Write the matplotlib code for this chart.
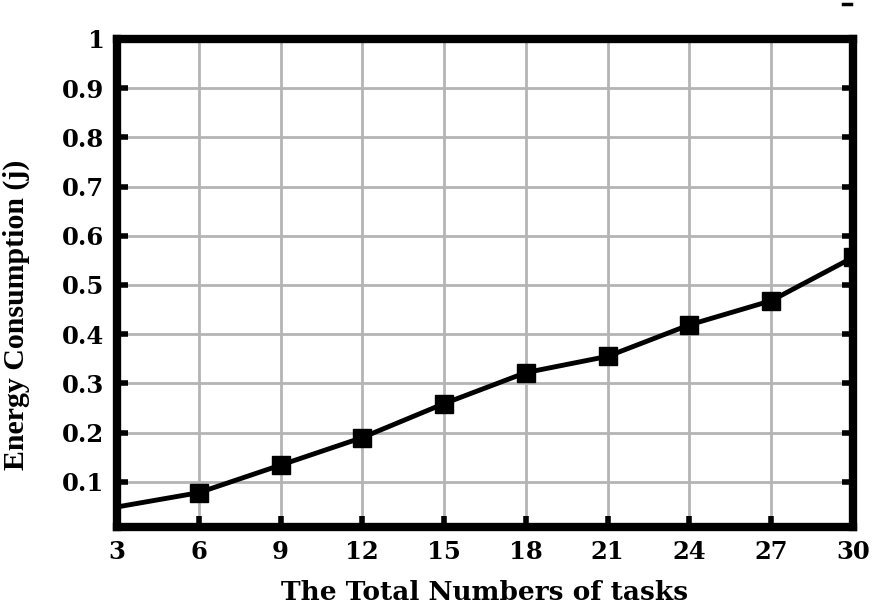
import matplotlib
matplotlib.use("Agg")
import matplotlib.pyplot as plt

tasks = [3, 6, 9, 12, 15, 18, 21, 24, 27, 30]
energy = [0.049, 0.078, 0.134, 0.19, 0.259, 0.322, 0.355, 0.419, 0.468, 0.556]

plt.rcParams['font.family'] = ['DejaVu Serif']
plt.rcParams['font.weight'] = 'bold'

fig = plt.figure(figsize=(8.73, 6.08), dpi=100)
ax = fig.add_axes([0.134, 0.133, 0.843, 0.803])

ax.plot(tasks, energy, color='black', linewidth=3.5, zorder=3)
ax.plot(tasks[1:], energy[1:], 's', color='black', markersize=13, zorder=4)

ax.set_xlim(3, 30)
ax.set_ylim(0.008, 1)
ax.set_xticks(range(3, 31, 3))
ax.set_yticks([0.1, 0.2, 0.3, 0.4, 0.5, 0.6, 0.7, 0.8, 0.9, 1])
ax.set_yticklabels(['0.1', '0.2', '0.3', '0.4', '0.5', '0.6', '0.7', '0.8', '0.9', '1'])
ax.grid(True, color='#b4b4b4', linewidth=2)
ax.set_axisbelow(True)

for s in ax.spines.values():
    s.set_linewidth(6)
ax.tick_params(direction='in', length=8, width=4, labelsize=17.5,
               right=True, top=False, pad=9)

ax.set_xlabel('The Total Numbers of tasks', fontsize=19, fontweight='bold', labelpad=12)
ax.set_ylabel('Energy Consumption (j)', fontsize=21.5, fontweight='bold',
              family='Liberation Serif')
ax.yaxis.set_label_coords(-0.118, 0.434)

# stray mark at the top right of the original figure
fig.add_artist(plt.Line2D([843/873, 851/873], [1-3.5/608, 1-3.5/608],
                          color='black', linewidth=2.5))

fig.savefig('out.png', dpi=100)
